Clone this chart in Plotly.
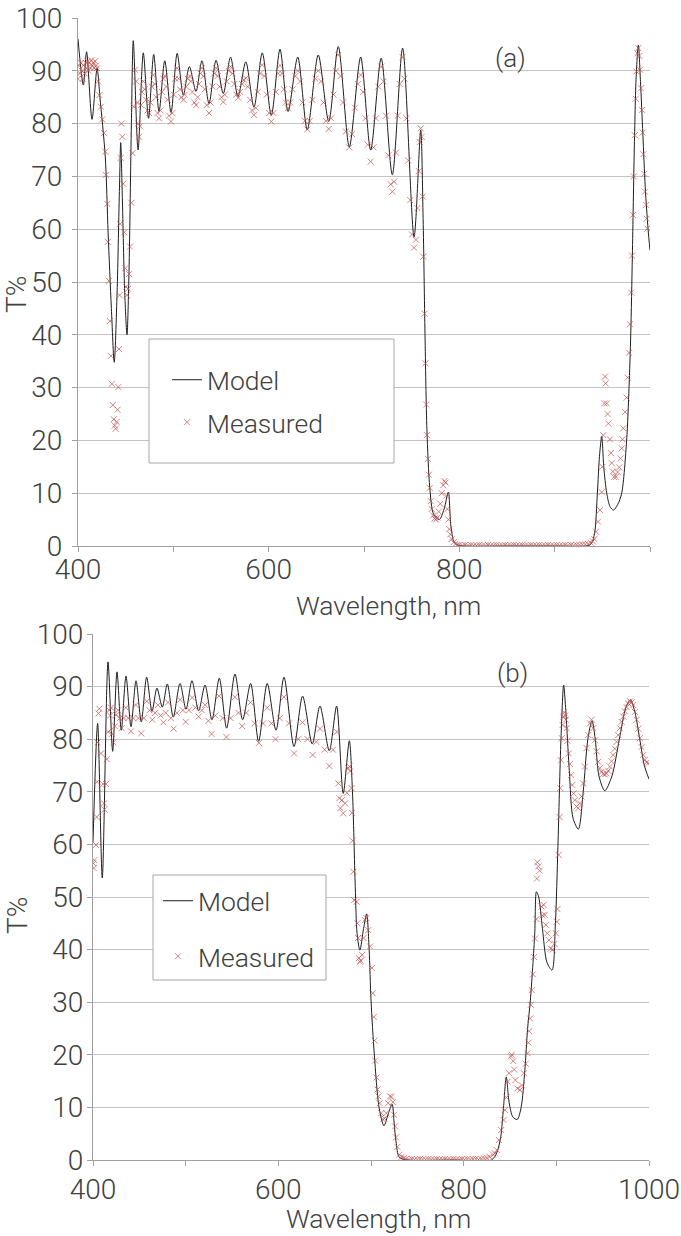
"""Transmission spectra, model vs measured, for two filters (a) and (b)."""

import plotly.graph_objects as go


W, H = 681, 1236

# (wavelength nm, T %)
MODEL_A = [
    (400, 96.0), (405.6, 87.3), (409, 93.6), (414.7, 80.8), (420, 90.5), (423, 85.0),
    (428.6, 73.7), (431.6, 59.3), (435, 45.0), (438, 34.8), (441, 48.0), (443.5, 68.0),
    (444.8, 76.4), (446.5, 66.0), (449, 48.0), (451.4, 40.0), (453.5, 52.0), (456, 80.0),
    (458, 95.7), (463, 75.0), (468.5, 93.4), (474, 81.0), (479.4, 93.1), (485, 82.3),
    (491, 91.9), (497.6, 82.1), (504, 93.3), (510.5, 85.4), (516.8, 90.8), (523.8, 86.1),
    (530, 91.9), (537.4, 83.8), (544.8, 92.0), (552.4, 85.7), (560, 92.6), (567.8, 85.1),
    (576, 91.7), (584.6, 83.1), (593.3, 93.4), (602.8, 81.6), (611.9, 94.1), (620.3, 82.3),
    (630.5, 92.6), (640.5, 78.8), (652, 93.0), (663, 80.4), (673, 94.6), (684.6, 75.6),
    (696.5, 92.6), (707, 75.0), (718, 92.4), (729.7, 70.3), (740.5, 94.3), (752.5, 58.5),
    (759.5, 78.8), (762, 62.0), (764, 40.0), (766, 22.0), (769, 11.0), (773, 6.0),
    (779, 5.0), (784, 7.0), (788.5, 10.2), (791, 4.0), (794, 1.0), (798, 0.2), (805, 0.0),
    (850, 0.0), (900, 0.0), (936, 0.1), (939, 0.6), (942, 2.5), (944.8, 10.0), (947, 17.0),
    (949.4, 20.8), (951.5, 15.0), (954.6, 10.0), (958, 7.5), (961.6, 6.8), (966, 7.8),
    (970.3, 10.0), (975.5, 20.0), (978, 30.0), (979.8, 40.0), (981.5, 55.0), (983.5, 75.0),
    (985.5, 89.0), (987.8, 94.9), (990, 88.0), (992.5, 78.0), (995, 68.0), (998, 60.0),
    (1000, 56.0),
]

MEAS_A = [
    (400, 88.5), (401, 91.0), (402, 89.5), (403, 91.5), (404, 90.0), (405, 88.5), (406, 91.0),
    (407, 89.5), (408, 91.5), (409, 90.5), (410, 91.8), (411, 90.0), (412, 91.5), (413, 90.5),
    (414, 92.0), (415, 91.0), (416, 91.5), (417, 90.5), (418, 91.8), (419, 91.0), (420, 90.5),
    (421, 88.0), (422.4, 85.4), (424, 83.2), (425.5, 80.8), (427.3, 78.2), (428.6, 74.7),
    (429.3, 70.3), (430.7, 64.8), (431.3, 57.6), (432.4, 50.2), (433.5, 42.6), (434.5, 36.0),
    (435.5, 30.7), (436.5, 26.7), (437.5, 24.0), (438.5, 22.8), (439.5, 22.2), (440.5, 23.5),
    (441.5, 25.8), (442.3, 30.1), (443, 37.3), (443.6, 47.5), (444.2, 61.0), (444.8, 73.5),
    (445.4, 80.0), (446.5, 77.5), (447.5, 68.6), (448.5, 59.4), (449.5, 52.6), (450.5, 49.1),
    (451.5, 47.5), (452.5, 48.7), (453.5, 51.5), (454.5, 56.7), (456, 65.0), (457.3, 74.4),
    (458.5, 83.2), (459.8, 90.2), (461, 88.0), (462, 84.0), (463, 80.0), (464, 77.5),
    (465, 79.5), (466, 83.5), (467, 86.0), (468.5, 88.0), (470, 86.5), (471.5, 84.5),
    (473, 82.5), (474.5, 82.0), (476, 84.0), (477.5, 87.0), (479, 89.2), (480.5, 87.5),
    (482, 85.0), (483.5, 82.0), (485, 81.0), (486.5, 82.5), (488, 86.0), (489.5, 88.5),
    (491, 89.0), (492.5, 87.0), (494, 84.5), (495.5, 81.5), (497.5, 80.4), (499, 82.0),
    (500.5, 85.5), (502, 88.5), (504, 90.5), (505.5, 88.5), (507, 86.5), (508.5, 85.0),
    (510.5, 84.5), (512, 85.5), (513.5, 87.0), (515, 88.5), (517, 89.0), (518.5, 88.0),
    (520, 86.0), (522, 84.0), (524, 83.5), (525.5, 85.0), (527, 87.5), (528.5, 89.5),
    (530, 90.5), (531.5, 89.0), (533, 86.5), (535, 83.5), (537.4, 82.0), (539, 84.0),
    (541, 87.0), (543, 89.5), (545, 90.5), (546.5, 89.0), (548.5, 87.0), (550.5, 85.0),
    (552.4, 84.1), (554, 85.5), (556, 88.0), (558, 90.0), (560, 90.8), (562, 89.5),
    (564, 87.5), (566, 85.5), (568, 84.9), (570, 86.0), (572, 87.5), (574, 88.3),
    (576, 88.6), (578, 87.0), (580.5, 84.5), (582.5, 82.5), (584.6, 81.6), (586.5, 83.0),
    (588.5, 86.0), (591, 89.5), (593.3, 91.1), (595.5, 89.0), (598, 85.5), (600.5, 82.0),
    (602.8, 80.4), (605, 82.0), (607.5, 86.0), (610, 89.5), (612, 91.0), (614, 89.5),
    (616, 86.5), (618, 84.0), (620.3, 82.9), (622.5, 84.0), (625, 86.5), (628, 89.0),
    (630.5, 90.0), (633, 88.0), (635.5, 84.0), (638, 80.5), (640.5, 78.9), (643, 80.5),
    (646, 84.5), (649, 88.5), (652, 90.0), (655, 88.0), (657.5, 84.0), (660, 80.5),
    (663, 79.0), (665.5, 81.0), (668, 85.5), (670.5, 90.0), (673, 93.0), (675.5, 89.0),
    (678, 84.0), (681, 78.5), (684.6, 75.5), (687.5, 78.0), (690.5, 83.0), (693.5, 87.5),
    (696.5, 89.2), (699, 86.0), (701.5, 81.0), (704, 76.0), (707, 72.8), (710, 75.5),
    (712.5, 81.0), (715, 87.0), (718, 90.8), (720.5, 88.0), (723, 81.5), (725.5, 74.0),
    (728, 68.5), (729.7, 67.1), (731.5, 69.0), (733.5, 74.5), (735.5, 81.5), (737.5, 87.5),
    (740.5, 92.6), (742.5, 88.5), (744.5, 81.0), (746.5, 73.0), (748.5, 65.5), (750.5, 59.0),
    (752.5, 56.5), (754.5, 58.0), (756, 64.0), (757.5, 71.0), (758.5, 76.5), (759.5, 79.1),
    (760.5, 77.5), (761.5, 66.2), (762.3, 54.8), (763.5, 44.0), (764.5, 34.6), (765.3, 26.8),
    (766, 21.0), (767, 16.5), (768, 13.5), (769, 11.0), (770, 8.5), (771, 7.0), (772.5, 5.8),
    (774, 5.2), (775.5, 5.0), (777, 5.4), (778.5, 6.5), (780, 8.0), (781.5, 10.0),
    (783, 11.5), (784.5, 12.3), (785.5, 12.0), (786.5, 9.5), (787.5, 7.0), (788.5, 5.0),
    (789.5, 3.2), (790.5, 2.2), (792, 1.3), (794, 0.7), (796, 0.4), (798, 0.2),
    (800, 0.2), (803, 0.1), (806, 0.2), (809, 0.1), (812, 0.2), (815, 0.1), (818, 0.1),
    (821, 0.2), (824, 0.1), (827, 0.1), (830, 0.2), (833, 0.1), (836, 0.1), (839, 0.2),
    (842, 0.1), (845, 0.1), (848, 0.2), (851, 0.1), (854, 0.1), (857, 0.2), (860, 0.1),
    (863, 0.1), (866, 0.2), (869, 0.1), (872, 0.1), (875, 0.2), (878, 0.1), (881, 0.1),
    (884, 0.2), (887, 0.1), (890, 0.1), (893, 0.2), (896, 0.1), (899, 0.1), (902, 0.2),
    (905, 0.1), (908, 0.1), (911, 0.2), (914, 0.1), (917, 0.2), (920, 0.1), (923, 0.2),
    (926, 0.2), (929, 0.3), (932, 0.3), (935, 0.4),
    (938, 0.6), (940, 0.9), (941.5, 1.3), (943.4, 2.7), (945.5, 4.6), (947.6, 6.8),
    (949.3, 10.2), (950, 15.0), (951, 21.0), (952, 27.0), (952.9, 32.1), (953.5, 30.8),
    (954.6, 27.0), (955.5, 25.0), (956.3, 23.2), (958, 20.2), (959, 17.6), (959.8, 15.7),
    (961, 14.1), (962.2, 13.1), (964.4, 13.1), (966, 14.0), (967.8, 14.9), (969, 16.6),
    (970.3, 18.5), (971.2, 20.2), (972, 22.3), (973.8, 25.4), (975.5, 28.1), (976.5, 31.9),
    (978, 36.6), (979, 42.0), (980.2, 48.0), (981.2, 55.0), (982.2, 62.7), (983, 70.0),
    (984, 77.8), (985, 84.7), (985.8, 89.9), (986.8, 93.3), (987.8, 94.3), (988.8, 92.8),
    (989.5, 90.2), (990.5, 86.7), (991.6, 82.6), (992.3, 78.3), (993, 74.2), (994, 70.5),
    (994.8, 67.1), (996, 64.6), (996.5, 62.0), (997.2, 60.1),
]

MODEL_B = [
    (400, 60.5), (405, 83.0), (410, 53.6), (416.2, 94.7), (421.2, 77.7), (425.9, 92.8),
    (430.5, 81.7), (435.6, 92.0), (441, 82.4), (446.4, 91.1), (452.1, 83.3), (457.9, 91.8),
    (463.7, 85.3), (469, 89.7), (474.8, 86.1), (480.2, 90.5), (486.6, 84.2), (493.9, 90.6),
    (500.4, 85.7), (506.8, 91.1), (514, 85.4), (520.9, 90.3), (528.4, 83.7), (536.3, 91.6),
    (544.2, 82.1), (553.2, 92.4), (561.5, 83.7), (570.1, 90.6), (578.7, 79.6), (588, 90.6),
    (597.5, 81.7), (606.1, 91.8), (616.9, 78.6), (626.2, 88.2), (636.6, 79.1), (644.9, 86.3),
    (655, 77.8), (662.9, 86.3), (670, 69.7), (676.6, 79.7), (680, 70.0), (683, 52.0),
    (685, 43.0), (688, 39.9), (692, 44.0), (695.3, 46.8), (698, 40.0), (700, 30.4),
    (703.6, 20.0), (708.7, 10.0), (714, 6.5), (719, 9.0), (722.8, 10.6), (725, 7.0),
    (727, 3.5), (730.6, 0.5), (740, 0.0), (790, 0.0), (830, 0.0), (836, 1.5), (840, 4.4),
    (843, 10.0), (846, 15.8), (849, 11.0), (853, 8.2), (857.8, 7.7), (862, 10.0),
    (866, 17.0), (869, 25.0), (872, 30.4), (876.7, 43.0), (878.5, 51.0), (881, 50.0),
    (885, 44.0), (890, 37.5), (895.4, 36.1), (899, 45.0), (901.7, 59.6), (905, 80.0),
    (907.9, 90.3), (910, 86.0), (914, 74.0), (918, 65.0), (923.8, 62.9), (929, 70.0),
    (934, 80.0), (938.5, 83.5), (942, 80.0), (946, 73.0), (952.3, 70.2), (960, 73.0),
    (968, 80.0), (975, 86.0), (980, 87.5), (985, 85.0), (990, 80.0), (995, 75.0),
    (1000, 72.4),
]

MEAS_B = [
    (400.4, 56.4), (400.8, 55.5), (401.5, 57.0), (403.2, 59.9), (404, 65.2), (404.6, 71.9),
    (405, 79.4), (406, 84.9), (406.8, 85.8), (408.6, 77.3), (411, 71.5), (411.8, 67.8),
    (412.5, 66.6), (414, 71.5), (415, 76.2), (416.5, 81.4), (417.5, 85.5), (418.5, 84.5),
    (419.5, 86.0), (420.4, 81.0), (422, 79.4), (423.5, 82.5), (425, 84.6), (427, 85.5),
    (429, 84.0), (431, 82.1), (433, 84.0), (435.5, 86.0), (438, 84.0), (441, 81.5),
    (443.5, 84.0), (446, 86.5), (449, 84.0), (452, 81.1), (455, 84.0), (458, 87.2),
    (461, 85.5), (464, 83.7), (467, 85.0), (470, 86.5), (473, 84.5), (476, 83.2),
    (478.5, 85.0), (481, 87.0), (484, 84.0), (487, 82.0), (490.5, 85.0), (494, 87.5),
    (497, 85.5), (500, 83.3), (503.5, 85.5), (507, 87.9), (510.5, 86.0), (514, 84.3),
    (517.5, 85.5), (521, 86.5), (524.5, 83.5), (528, 81.0), (532, 84.5), (536, 88.2),
    (540, 84.0), (544, 80.4), (548.5, 84.0), (553, 88.0), (557, 85.0), (561, 82.5),
    (565.5, 85.0), (570, 87.0), (574.5, 83.0), (579, 79.3), (583.5, 83.0), (588, 86.0),
    (592.5, 83.0), (597, 80.0), (601.5, 84.0), (606, 88.0), (611.5, 83.0), (617, 77.3),
    (621.5, 80.0), (626, 83.2), (631.5, 80.0), (637, 77.0), (641, 79.5), (645, 82.0),
    (650, 78.0), (655, 74.9), (659, 78.0), (663, 81.4), (664.8, 71.6), (666, 68.8),
    (667, 66.9), (668.5, 68.4), (670, 65.9), (672, 67.8), (674, 69.8), (675.5, 74.5),
    (676.7, 74.8), (677.5, 73.9), (679, 70.7), (679.6, 66.0), (680.2, 60.7), (681, 54.8),
    (681.8, 49.4), (684.6, 49.1), (685.3, 45.0), (686, 42.2), (687, 38.4), (688, 37.7),
    (689, 37.9), (690.5, 39.0), (692, 42.2), (693.5, 45.6), (695, 46.0), (697, 43.7),
    (699, 40.6), (701, 36.5), (702, 31.7), (703, 27.2), (703.8, 22.7), (704.4, 18.9),
    (706, 15.7), (707, 13.4), (708, 12.1), (709.3, 10.8), (711, 8.9), (713, 7.7),
    (714.5, 7.9), (716.5, 8.9), (718.5, 10.8), (720.5, 12.1), (722, 12.0), (723.7, 11.0),
    (724.8, 8.6), (726, 6.4), (727, 4.3), (728.5, 2.5), (730.7, 1.0), (733, 0.6),
    (735.5, 0.4), (738, 0.2), (741, 0.1), (744, 0.2), (747, 0.1), (750, 0.1), (753, 0.2),
    (756, 0.1), (759, 0.1), (762, 0.2), (765, 0.1), (768, 0.1), (771, 0.2), (774, 0.1),
    (777, 0.1), (780, 0.2), (783, 0.1), (786, 0.1), (789, 0.2), (792, 0.1), (795, 0.1),
    (798, 0.2), (801, 0.1), (804, 0.2), (807, 0.1), (810, 0.2), (813, 0.2), (816, 0.1),
    (819, 0.2), (822, 0.3), (825, 0.4), (828, 0.6),
    (831.9, 1.0), (833.5, 1.3), (835.7, 1.9), (838, 3.8), (840.5, 5.7), (843, 7.6),
    (844.5, 9.5), (846.3, 11.9), (847.5, 14.9), (849, 16.5), (851, 19.7), (852, 20.0),
    (853.5, 18.8), (854.5, 17.2), (855.8, 15.2), (858, 13.6), (860.7, 13.3), (862.8, 14.2),
    (865, 16.5), (867, 18.3), (869, 20.3), (870, 22.3), (870.7, 24.5), (871.7, 26.9),
    (872.5, 29.5), (873.5, 32.3), (874.8, 35.3), (875.8, 38.6), (877, 42.1), (878.5, 45.8),
    (879, 53.5), (879.5, 56.6), (880.5, 55.8), (882, 55.0), (884, 48.2), (885.2, 46.5),
    (886.3, 48.5), (887.5, 46.6), (888.7, 44.7), (890.3, 43.1), (892, 41.8), (894, 40.2),
    (896, 40.0), (898, 41.1), (899.5, 43.1), (900.6, 45.3), (901.2, 47.7), (902.5, 58.0),
    (903.5, 65.2), (904.2, 70.7), (905, 76.0), (905.8, 80.2), (906.7, 82.7), (907.5, 84.3),
    (908.4, 85.1), (909.5, 84.5), (910.3, 83.7), (911.2, 82.1), (912.1, 79.7), (913.4, 77.3),
    (914.7, 75.3), (916, 73.2), (917.2, 71.3), (918.6, 69.7), (920, 68.4), (921.8, 67.2),
    (923.6, 66.9), (925.4, 67.8), (927.2, 69.1), (929, 71.6), (930.8, 74.8), (932.6, 78.3),
    (934.4, 80.8), (936.2, 83.0), (938, 83.7), (939.8, 82.1), (941.6, 79.8), (943.4, 77.7),
    (945.2, 75.7), (947, 74.5), (948.8, 73.8), (950.6, 73.4), (952.4, 73.3), (954.2, 73.5),
    (956, 74.0), (957.8, 74.8), (959.6, 75.8), (961.4, 77.0), (963.2, 78.2), (965, 79.5),
    (966.8, 80.8), (968.6, 82.1), (970.4, 83.3), (972.2, 84.3), (974, 85.3), (975.8, 86.1),
    (977.6, 86.8), (979.4, 87.2), (981.2, 87.0), (983, 86.5), (984.8, 85.2), (986.6, 83.7),
    (988.4, 82.0), (990.2, 80.2), (992, 78.5), (993.8, 77.0), (995.6, 76.1), (997.4, 75.6),
    (999, 75.4),
]

TICK_VALS = [400, 600, 800, 1000]

FONT = "Roboto"
TEXT = "#404040"
GRID = "#c4c4c4"
AXIS = "#a0a0a0"
RED = "rgba(192, 80, 77, 0.7)"


def px_x(p):
    return p / W


def px_y(p):
    return 1 - p / H


def unzip(pairs):
    return [p[0] for p in pairs], [p[1] for p in pairs]


def add_panel(fig, model, meas, xa, ya, legend):
    x, y = unzip(model)
    fig.add_trace(go.Scatter(
        x=x, y=y, mode="lines", name="Model", xaxis=xa, yaxis=ya,
        line=dict(color="#1e1e1e", width=1, shape="spline", smoothing=0.8),
        legend=legend, legendgroup=legend + "m"))
    x, y = unzip(meas)
    fig.add_trace(go.Scatter(
        x=x, y=y, mode="markers", name="Measured", xaxis=xa, yaxis=ya,
        marker=dict(symbol="x-thin", size=6, color=RED,
                    line=dict(width=1, color=RED)),
        legend=legend, legendgroup=legend + "d"))


def axis_style(domain, anchor, standoff):
    return dict(domain=domain, anchor=anchor, range=[400, 1000], automargin=False,
                tickvals=TICK_VALS, ticks="outside", ticklen=5, tickcolor=AXIS,
                showline=True, linecolor=AXIS, showgrid=False, zeroline=False,
                ticklabelstandoff=standoff,
                minor=dict(dtick=100, tick0=400, ticks="outside", ticklen=5,
                           tickcolor=AXIS, showgrid=False),
                tickfont=dict(family=FONT, size=28, color=TEXT, weight=300))


def yaxis_style(domain, anchor, standoff):
    return dict(domain=domain, anchor=anchor, range=[0, 100], dtick=10,
                automargin=False,
                ticks="outside", ticklen=5, tickcolor=AXIS,
                showline=True, linecolor=AXIS, gridcolor=GRID, zeroline=False,
                ticklabelstandoff=standoff,
                tickfont=dict(family=FONT, size=28, color=TEXT, weight=300))


def main():
    fig = go.Figure()
    add_panel(fig, MODEL_A, MEAS_A, "x", "y", "legend")
    add_panel(fig, MODEL_B, MEAS_B, "x2", "y2", "legend2")

    legend_font = dict(family=FONT, size=26.5, color=TEXT, weight=300)
    fig.update_layout(
        width=W, height=H,
        margin=dict(l=0, r=0, t=0, b=0),
        paper_bgcolor="white", plot_bgcolor="white",
        showlegend=True,
        xaxis=axis_style([px_x(78), px_x(650)], "y", -7),
        yaxis=yaxis_style([px_y(546), px_y(18)], "x", 4),
        xaxis2=axis_style([px_x(93), px_x(649)], "y2", -1),
        yaxis2=yaxis_style([px_y(1160), px_y(634)], "x2", -2),
        legend=dict(x=px_x(167), y=px_y(356), xanchor="left", yanchor="top",
                    bgcolor="rgba(0,0,0,0)", font=legend_font,
                    tracegroupgap=5),
        legend2=dict(x=px_x(158), y=px_y(877), xanchor="left", yanchor="top",
                     bgcolor="rgba(0,0,0,0)", font=legend_font,
                     tracegroupgap=18),
    )

    # legend frames
    for x0, y0, x1, y1 in [(149, 339, 394, 463), (153, 875, 326, 980)]:
        fig.add_shape(type="rect", xref="paper", yref="paper",
                      x0=px_x(x0), x1=px_x(x1), y0=px_y(y1), y1=px_y(y0),
                      line=dict(color="#a6a6a6", width=1), fillcolor="white",
                      layer="above")

    labels = [
        ("(a)", 510, 58, 0, 26),
        ("(b)", 512, 673, 0, 26),
        ("T%", 17, 295, -90, 28),
        ("T%", 17, 916, -90, 28),
        ("Wavelength, nm", 388, 605, 0, 26.5),
        ("Wavelength, nm", 378, 1218, 0, 26.5),
    ]
    for text, x, y, angle, size in labels:
        fig.add_annotation(text=text, x=px_x(x), y=px_y(y), xref="paper",
                           yref="paper", showarrow=False, textangle=angle,
                           xanchor="center", yanchor="middle",
                           font=dict(family=FONT, size=size, color=TEXT,
                                     weight=300))

    # the page body has a default 8px margin; drop it so the figure fills the window
    fig.write_html("out.html", config={"displayModeBar": False},
                   post_script="document.body.style.margin = '0';")
    return 0


if __name__ == "__main__":
    main()
